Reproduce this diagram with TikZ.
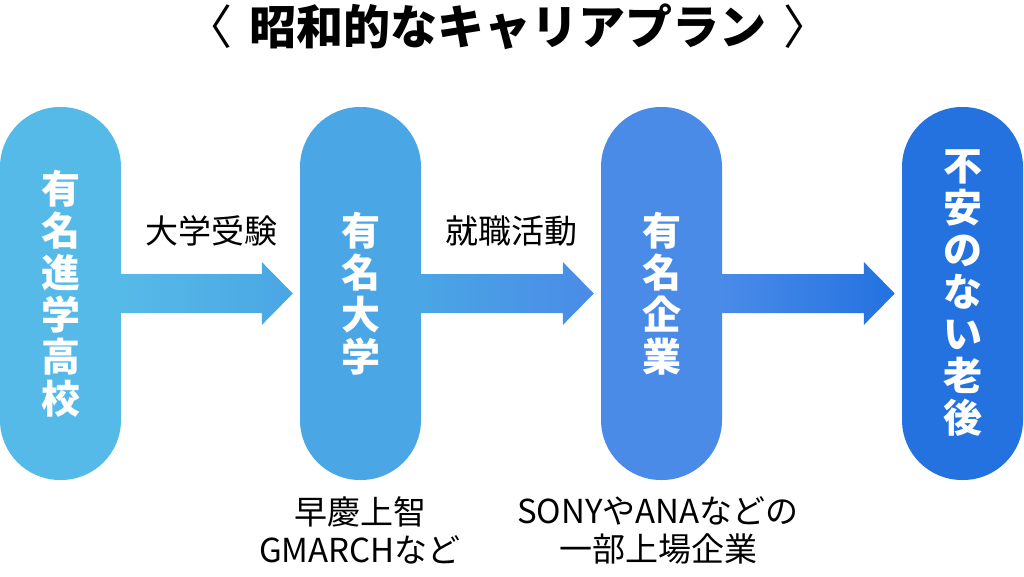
\documentclass[tikz,border=0pt]{standalone}
\usepackage{fontspec}
\setmainfont{Noto Sans CJK JP}
\usetikzlibrary{calc}

\definecolor{kouC}{RGB}{86,186,232}
\definecolor{daiC}{RGB}{74,166,228}
\definecolor{kigC}{RGB}{74,139,232}
\definecolor{rouC}{RGB}{35,114,224}

\tikzset{
  pill/.style={rectangle, rounded corners=60pt, minimum width=121pt, minimum height=373pt,
    inner sep=0pt, text=white, align=center, font=\fontsize{39}{42}\selectfont\bfseries},
  stepLabel/.style={inner sep=0pt, align=center, font=\fontsize{33}{38}\selectfont},
}

\begin{document}
\begin{tikzpicture}[x=1pt,y=-1pt]
\useasboundingbox (0,0) rectangle (1024,576);

% Title
\node[font=\fontsize{47}{50}\selectfont\bfseries] (title) at (508,27)
  {{\mdseries〈}\hspace{6pt} 昭和的なキャリアプラン \hspace{6pt}{\mdseries〉}};

% Pills
\node[pill, fill=kouC] (koukou) at (60.5,293.5) {有\\名\\進\\学\\高\\校};
\node[pill, fill=daiC] (daigaku) at (360.5,293.5) {有\\名\\大\\学};
\node[pill, fill=kigC] (kigyou) at (661.5,293.5) {有\\名\\企\\業};
\node[pill, fill=rouC] (rougo) at (962.5,293.5) {不\\安\\の\\な\\い\\老\\後};

% Block arrows
\foreach \a/\b/\ca/\cb in {koukou/daigaku/kouC/daiC, daigaku/kigyou/daiC/kigC, kigyou/rougo/kigC/rouC}
  \shade[left color=\ca, right color=\cb]
    ($(\a.east)+(0,-19.5)$) -- ($(\b.west)+(-38,-19.5)$) -- ($(\b.west)+(-38,-31.5)$)
    -- ($(\b.west)+(-7,0)$) -- ($(\b.west)+(-38,31.5)$) -- ($(\b.west)+(-38,19.5)$)
    -- ($(\a.east)+(0,19.5)$) -- cycle;

% Labels
\node[stepLabel] (juken) at (211,231) {大学受験};
\node[stepLabel] (shushoku) at (511,231) {就職活動};
\node[stepLabel] (daiNote) at (360,530) {早慶上智\\GMARCHなど};
\node[stepLabel] (kigNote) at (658,530) {SONYやANAなどの\\一部上場企業};

\end{tikzpicture}
\end{document}
